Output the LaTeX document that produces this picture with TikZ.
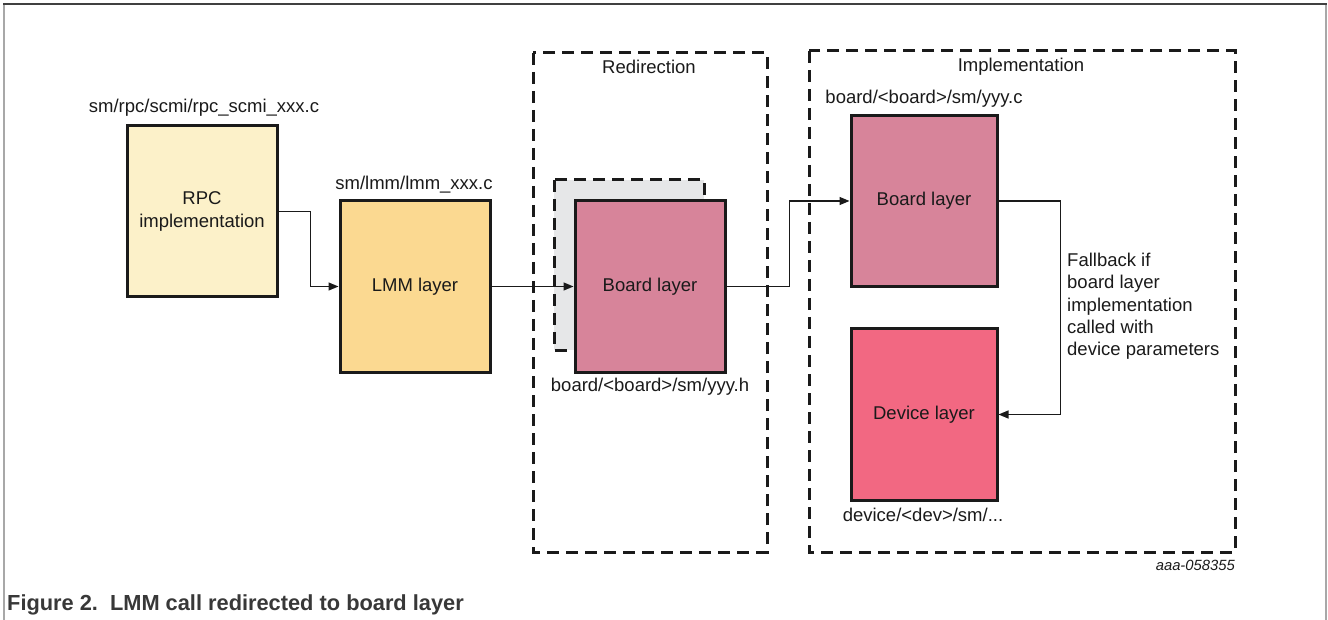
\documentclass[tikz,border=0pt]{standalone}
\usepackage{fontspec}
\setmainfont{Liberation Sans}
\usetikzlibrary{arrows.meta}

\definecolor{inkc}{HTML}{1A1A1A}
\definecolor{rpcfill}{HTML}{FCF1C9}
\definecolor{lmmfill}{HTML}{FBD991}
\definecolor{boardfill}{HTML}{D7849A}
\definecolor{devfill}{HTML}{F26882}
\definecolor{shadefill}{HTML}{E6E7E8}
\definecolor{framedark}{HTML}{404040}
\definecolor{framelight}{HTML}{A8A8A8}
\definecolor{captc}{HTML}{383838}

\tikzset{
  txt/.style={font=\fontsize{18.5}{22.3}\selectfont, text=inkc, inner sep=0pt},
  layerbox/.style={draw=inkc, line width=3pt, minimum width=150pt,
    minimum height=171pt, align=center, inner sep=0pt,
    font=\fontsize{18.5}{22.3}\selectfont, text=inkc},
  groupbox/.style={draw=inkc, line width=3pt, dash pattern=on 12pt off 7pt},
  conn/.style={draw=inkc, line width=1.3pt, -{Triangle[length=10pt,width=8pt]}},
}

\begin{document}
\begin{tikzpicture}[x=1pt,y=-1pt]
\useasboundingbox (0,0) rectangle (1328,620);

% page frame
\draw[framelight, line width=1.5pt] (4,620) -- (4,4);
\draw[framelight, line width=1.5pt] (1326,4) -- (1326,620);
\draw[framedark, line width=2pt] (3.25,4) -- (1326.75,4);

% dashed groups
\draw[groupbox] (533,53) rectangle (767,552);
\node[txt] (redir) at (649,67) {Redirection};
\draw[groupbox] (809,51) rectangle (1235,552);
\node[txt] (impl) at (1021,67) {Implementation};

% shadow of the redirected board layer
\draw[groupbox, fill=shadefill] (554,180) rectangle (704,350);

% layer boxes
\node[layerbox, fill=rpcfill] (rpc) at (202,211.5) {RPC\\implementation};
\node[layerbox, fill=lmmfill] (lmm) at (415,286.5) {LMM layer};
\node[layerbox, fill=boardfill] (bl1) at (650,286.5) {Board layer};
\node[layerbox, fill=boardfill, minimum width=146pt] (bl2) at (924,201) {Board layer};
\node[layerbox, fill=devfill, minimum width=146pt] (dev) at (924,414.5) {Device layer};

% file labels
\node[txt] (rpcfile) at (204,108) {sm/rpc/scmi/rpc\_scmi\_xxx.c};
\node[txt] (lmmfile) at (414,185) {sm/lmm/lmm\_xxx.c};
\node[txt] (bl1file) at (650,387) {board/<board>/sm/yyy.h};
\node[txt] (bl2file) at (924,99) {board/<board>/sm/yyy.c};
\node[txt] (devfile) at (923,515) {device/<dev>/sm/...};

% call flow
\draw[conn] (rpc.east) -- ++(32,0) |- (lmm.west);
\draw[conn] (lmm.east) -- (bl1.west);
\draw[conn] (bl1.east) -- ++(63,0) |- (bl2.west);
\draw[conn] (bl2.east) -- ++(62,0) |- (dev.east);

\node[txt, anchor=north west, align=left] (fallback) at (1067,253)
  {Fallback if\\board layer\\implementation\\called with\\device parameters};

% drawing number and caption
\node[font=\fontsize{14.8}{17}\selectfont\itshape, text=inkc, inner sep=0pt,
  anchor=east] (docid) at (1235,565) {aaa-058355};
\node[font=\fontsize{21.8}{24}\selectfont\bfseries, text=captc, inner sep=0pt,
  anchor=west] (caption) at (7,605) {Figure 2.\hspace{0.55em}LMM call redirected to board layer};
\end{tikzpicture}
\end{document}
